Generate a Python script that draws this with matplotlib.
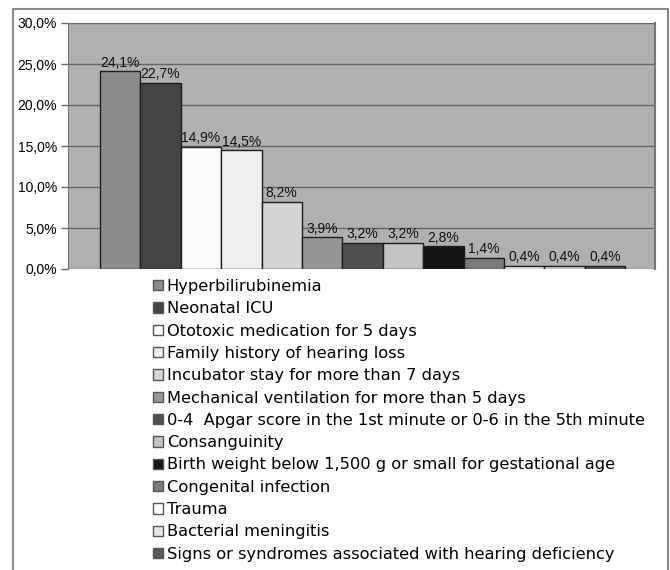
import matplotlib
matplotlib.use('Agg')
import matplotlib.pyplot as plt
from matplotlib.patches import Rectangle

# risk factors and their share (%)
factors = ['Hyperbilirubinemia',
           'Neonatal ICU',
           'Ototoxic medication for 5 days',
           'Family history of hearing loss',
           'Incubator stay for more than 7 days',
           'Mechanical ventilation for more than 5 days',
           '0-4  Apgar score in the 1st minute or 0-6 in the 5th minute',
           'Consanguinity',
           'Birth weight below 1,500 g or small for gestational age',
           'Congenital infection',
           'Trauma',
           'Bacterial meningitis',
           'Signs or syndromes associated with hearing deficiency']
values = [24.1, 22.7, 14.9, 14.5, 8.2, 3.9, 3.2, 3.2, 2.8, 1.4, 0.4, 0.4, 0.4]
colors = ['#8c8c8c', '#444444', '#fbfbfb', '#efefef', '#d4d4d4', '#969696',
          '#4f4f4f', '#c4c4c4', '#161616', '#7a7a7a', '#ffffff', '#e6e6e6',
          '#5a5a5a']
yticks = [0, 5, 10, 15, 20, 25, 30]

fig = plt.figure(figsize=(6.7, 5.7), dpi=100)

# outer frame
fig.patches.append(Rectangle((13 / 670, -0.01), 655 / 670, 1 - 8.5 / 570 + 0.01,
                             transform=fig.transFigure, fill=False,
                             edgecolor='#8a8a8a', linewidth=1.5))

ax = fig.add_axes([68 / 670, 1 - 269 / 570, 587 / 670, 246 / 570])
ax.set_facecolor('#b0b0b0')

x = list(range(len(values)))
bars = ax.bar(x, values, width=1.0, color=colors, edgecolor='#1e1e1e',
              linewidth=1, zorder=3)
for b, lab in zip(bars, factors):
    b.set_label(lab)

labels = [('%.1f%%' % v).replace('.', ',') for v in values]
ax.bar_label(bars, labels=labels, padding=1, fontsize=10,
             family='Liberation Sans', color='#111111')

ax.set_xlim(-1.29, 13.24)
ax.set_ylim(0, 30)
ax.set_yticks(yticks)
ax.set_yticklabels([('%.1f%%' % t).replace('.', ',') for t in yticks],
                   family='Liberation Sans', fontsize=10)
ax.set_xticks([])
ax.yaxis.grid(True, color='#666666', linewidth=1, zorder=0)
ax.set_axisbelow(True)
ax.tick_params(axis='y', length=5, width=1, color='#666666', pad=3)
for side in ['top', 'bottom']:
    ax.spines[side].set_visible(False)
ax.spines['left'].set_color('#777777')
ax.spines['right'].set_color('#777777')
ax.spines['right'].set_linewidth(1.5)

leg = fig.legend(handles=list(bars), loc='upper left',
                 bbox_to_anchor=(153 / 670, 1 - 279 / 570),
                 frameon=False, prop={'family': 'DejaVu Sans', 'size': 11.7},
                 handlelength=0.6, handleheight=0.6, handletextpad=0.25,
                 labelspacing=0.45, borderpad=0, borderaxespad=0)
for h in leg.legend_handles:
    h.set_linewidth(1)
    h.set_edgecolor('#555555')

fig.savefig('out.png', dpi=100)
